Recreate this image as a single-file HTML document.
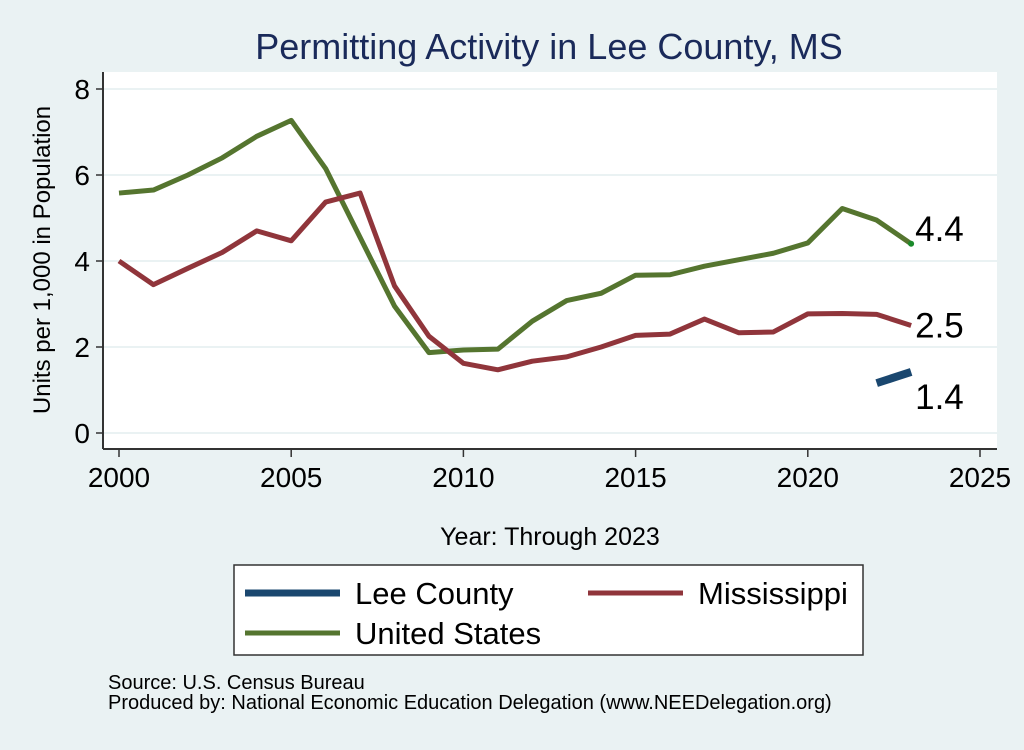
<!DOCTYPE html>
<html><head><meta charset="utf-8"><style>
body{margin:0;background:#eaf2f3;font-family:"Liberation Sans",Arial,sans-serif}
</style></head><body>
<svg width="1024" height="745" viewBox="0 0 1024 745" xmlns="http://www.w3.org/2000/svg" font-family="Liberation Sans, Arial, sans-serif">
<rect x="0" y="0" width="1024" height="745" fill="#eaf2f3"/>
<text x="549" y="59" font-size="36" fill="#1a2a5a" text-anchor="middle">Permitting Activity in Lee County, MS</text>
<rect x="103" y="72" width="894" height="377" fill="#fff"/>
<g id="grid"></g>
<g id="series"></g>
<line x1="103" y1="72" x2="103" y2="449" stroke="#333" stroke-width="2"/>
<line x1="103" y1="449" x2="997" y2="449" stroke="#333" stroke-width="2"/>
<g id="ticks"></g>
<text transform="translate(50,260) rotate(-90)" font-size="24" text-anchor="middle">Units per 1,000 in Population</text>
<text x="550" y="545" font-size="25" text-anchor="middle">Year: Through 2023</text>
<g>
<rect x="234" y="565" width="629" height="90" fill="#fff" stroke="#333" stroke-width="1.5"/>
<line x1="245" y1="593" x2="340" y2="593" stroke="#1a476f" stroke-width="7"/>
<text x="355" y="604" font-size="31">Lee County</text>
<line x1="588" y1="593" x2="683" y2="593" stroke="#90353b" stroke-width="5"/>
<text x="698" y="604" font-size="31">Mississippi</text>
<line x1="245" y1="633" x2="340" y2="633" stroke="#55752f" stroke-width="5"/>
<text x="355" y="644" font-size="31">United States</text>
</g>
<text x="108" y="689" font-size="20">Source: U.S. Census Bureau</text>
<text x="108" y="709" font-size="20">Produced by: National Economic Education Delegation (www.NEEDelegation.org)</text>
</svg>
<script>
const years=[2000,2001,2002,2003,2004,2005,2006,2007,2008,2009,2010,2011,2012,2013,2014,2015,2016,2017,2018,2019,2020,2021,2022,2023];
const usValues=[5.58,5.65,6.0,6.4,6.9,7.27,6.15,4.55,2.95,1.87,1.93,1.95,2.6,3.08,3.25,3.67,3.68,3.88,4.03,4.18,4.42,5.22,4.95,4.4];
const msValues=[4.0,3.45,3.83,4.2,4.7,4.47,5.37,5.58,3.42,2.25,1.62,1.47,1.67,1.77,2.0,2.27,2.3,2.65,2.33,2.35,2.77,2.78,2.76,2.5];
const leeYears=[2022,2023];
const leeValues=[1.16,1.42];
const xTicks=[2000,2005,2010,2015,2020,2025];
const yTicks=[0,2,4,6,8];
const NS='http://www.w3.org/2000/svg';
function xs(v){return 119+(v-2000)*(980-119)/25;}
function ys(v){return 433-v*43;}
function mk(tag,attrs,parent){const e=document.createElementNS(NS,tag);for(const k in attrs)e.setAttribute(k,attrs[k]);document.getElementById(parent).appendChild(e);return e;}
yTicks.forEach(t=>{
 const g=mk('line',{x1:103,x2:997,y1:ys(t),y2:ys(t),stroke:'#eaf2f3','stroke-width':2},'grid');
 
 
 const l=mk('line',{x1:96,x2:103,y1:ys(t),y2:ys(t),stroke:'#333','stroke-width':1.5},'ticks');
 
 
 const tx=mk('text',{x:90,y:ys(t)+10,'font-size':28,'text-anchor':'end'},'ticks');
 tx.textContent=t;
 
 
});
xTicks.forEach(t=>{
 const l=mk('line',{x1:xs(t),x2:xs(t),y1:449,y2:457,stroke:'#333','stroke-width':1.5},'ticks');
 
 
 const tx=mk('text',{x:xs(t),y:487,'font-size':28,'text-anchor':'middle'},'ticks');
 tx.textContent=t;
 
 
});
function line(xv,yv,color,w,name){
 const p=mk('polyline',{points:xv.map((x,i)=>xs(x)+','+ys(yv[i])).join(' '),fill:'none',stroke:color,'stroke-width':w,'stroke-linejoin':'round'},'series');
 
 
}
function label(x,v,dy,name){
 const t=mk('text',{x:xs(x)+4,y:ys(v)+dy,'font-size':35},'series');
 t.textContent=v.toFixed(1);
 
 
}
line(years,usValues,'#55752f',5,'us-line');
line(years,msValues,'#90353b',5,'ms-line');
line(leeYears,leeValues,'#1a476f',8,'lee-line');
const dot=mk('circle',{cx:xs(2023),cy:ys(usValues[23]),r:3,fill:'#1a8a2a'},'series');


label(2023,usValues[23],-3,'us-end-label');
label(2023,msValues[23],12,'ms-end-label');
label(2023,leeValues[1],37,'lee-end-label');
</script>
</body></html>
